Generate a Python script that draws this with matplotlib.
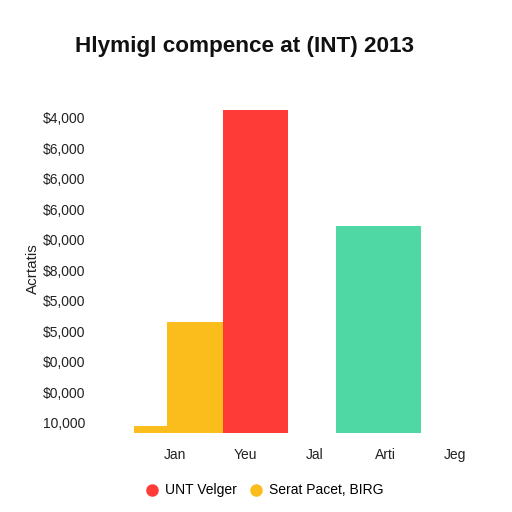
import matplotlib
matplotlib.use("Agg")
from matplotlib import pyplot as plt
from matplotlib.lines import Line2D
import numpy as np

plt.rcParams['font.family'] = ['Liberation Sans', 'DejaVu Sans']

TITLE = "Hlymigl compence at (INT) 2013"
YLABEL = "Acrtatis"
categories = ["Jan", "Yeu", "Jal", "Arti", "Jeg"]
ytick_labels = ["10,000", "$0,000", "$0,000", "$5,000", "$5,000", "$8,000",
                "$0,000", "$6,000", "$6,000", "$6,000", "$4,000"]

# bar heights in thousands
serat_values = [0.23, 3.64]      # Serat Pacet, BIRG (yellow)
unt_values = [10.59]             # UNT Velger (red)
green_values = [6.79]            # unlabelled green bar

legend_labels = ["UNT Velger", "Serat Pacet, BIRG"]

RED = "#ff3b37"
YELLOW = "#fbbd1c"
GREEN = "#4fd8a4"

# layout: bar centres/widths relative to category index
serat_pos = [-0.35, 0.286]
serat_w = [0.47, 0.80]
unt_pos = [1.15]
unt_w = [0.93]
green_pos = [2.907]
green_w = [1.21]

fig = plt.figure(figsize=(5.12, 5.12), dpi=100)
ax = fig.add_axes([133 / 512, 79 / 512, 350 / 512, 335.5 / 512])

ax.bar(serat_pos, serat_values, width=serat_w, color=YELLOW)
ax.bar(unt_pos, unt_values, width=unt_w, color=RED)
ax.bar(green_pos, green_values, width=green_w, color=GREEN)

ax.set_xlim(-0.6, 4.4)
ax.set_ylim(0, 11)
ax.set_xticks(range(len(categories)))
ax.set_xticklabels(categories, fontsize=10, color="#222222")
ax.set_yticks(np.arange(len(ytick_labels)) + 0.33)
ax.set_yticklabels(ytick_labels, fontsize=10, color="#222222")
ax.tick_params(length=0)
ax.tick_params(axis='x', pad=11)
ax.tick_params(axis='y', pad=34)
for s in ax.spines.values():
    s.set_visible(False)

ax.set_ylabel(YLABEL, fontsize=11, color="#222222")
ax.yaxis.set_label_coords(-0.265, 0.49)

fig.text(0.477, 0.91, TITLE, ha='center', va='center', fontsize=16.2,
         fontweight='bold', color="#111111")

handles = [Line2D([], [], marker='o', ls='', color=RED, markersize=8),
           Line2D([], [], marker='o', ls='', color=YELLOW, markersize=8)]
fig.legend(handles, legend_labels, loc='center', bbox_to_anchor=(0.512, 0.042),
           ncol=2, frameon=False, fontsize=10, handletextpad=0.1,
           columnspacing=0.6, handlelength=1.6)

# faint footer, cut off at the bottom edge as in the original
fig.text(0.51, -0.012, "Sotrce: tamal Velcher     Sanctiobatenu Pabrico",
         ha='center', va='center', fontsize=9, color="#b8d4dc")

plt.savefig("out.png", dpi=100)
